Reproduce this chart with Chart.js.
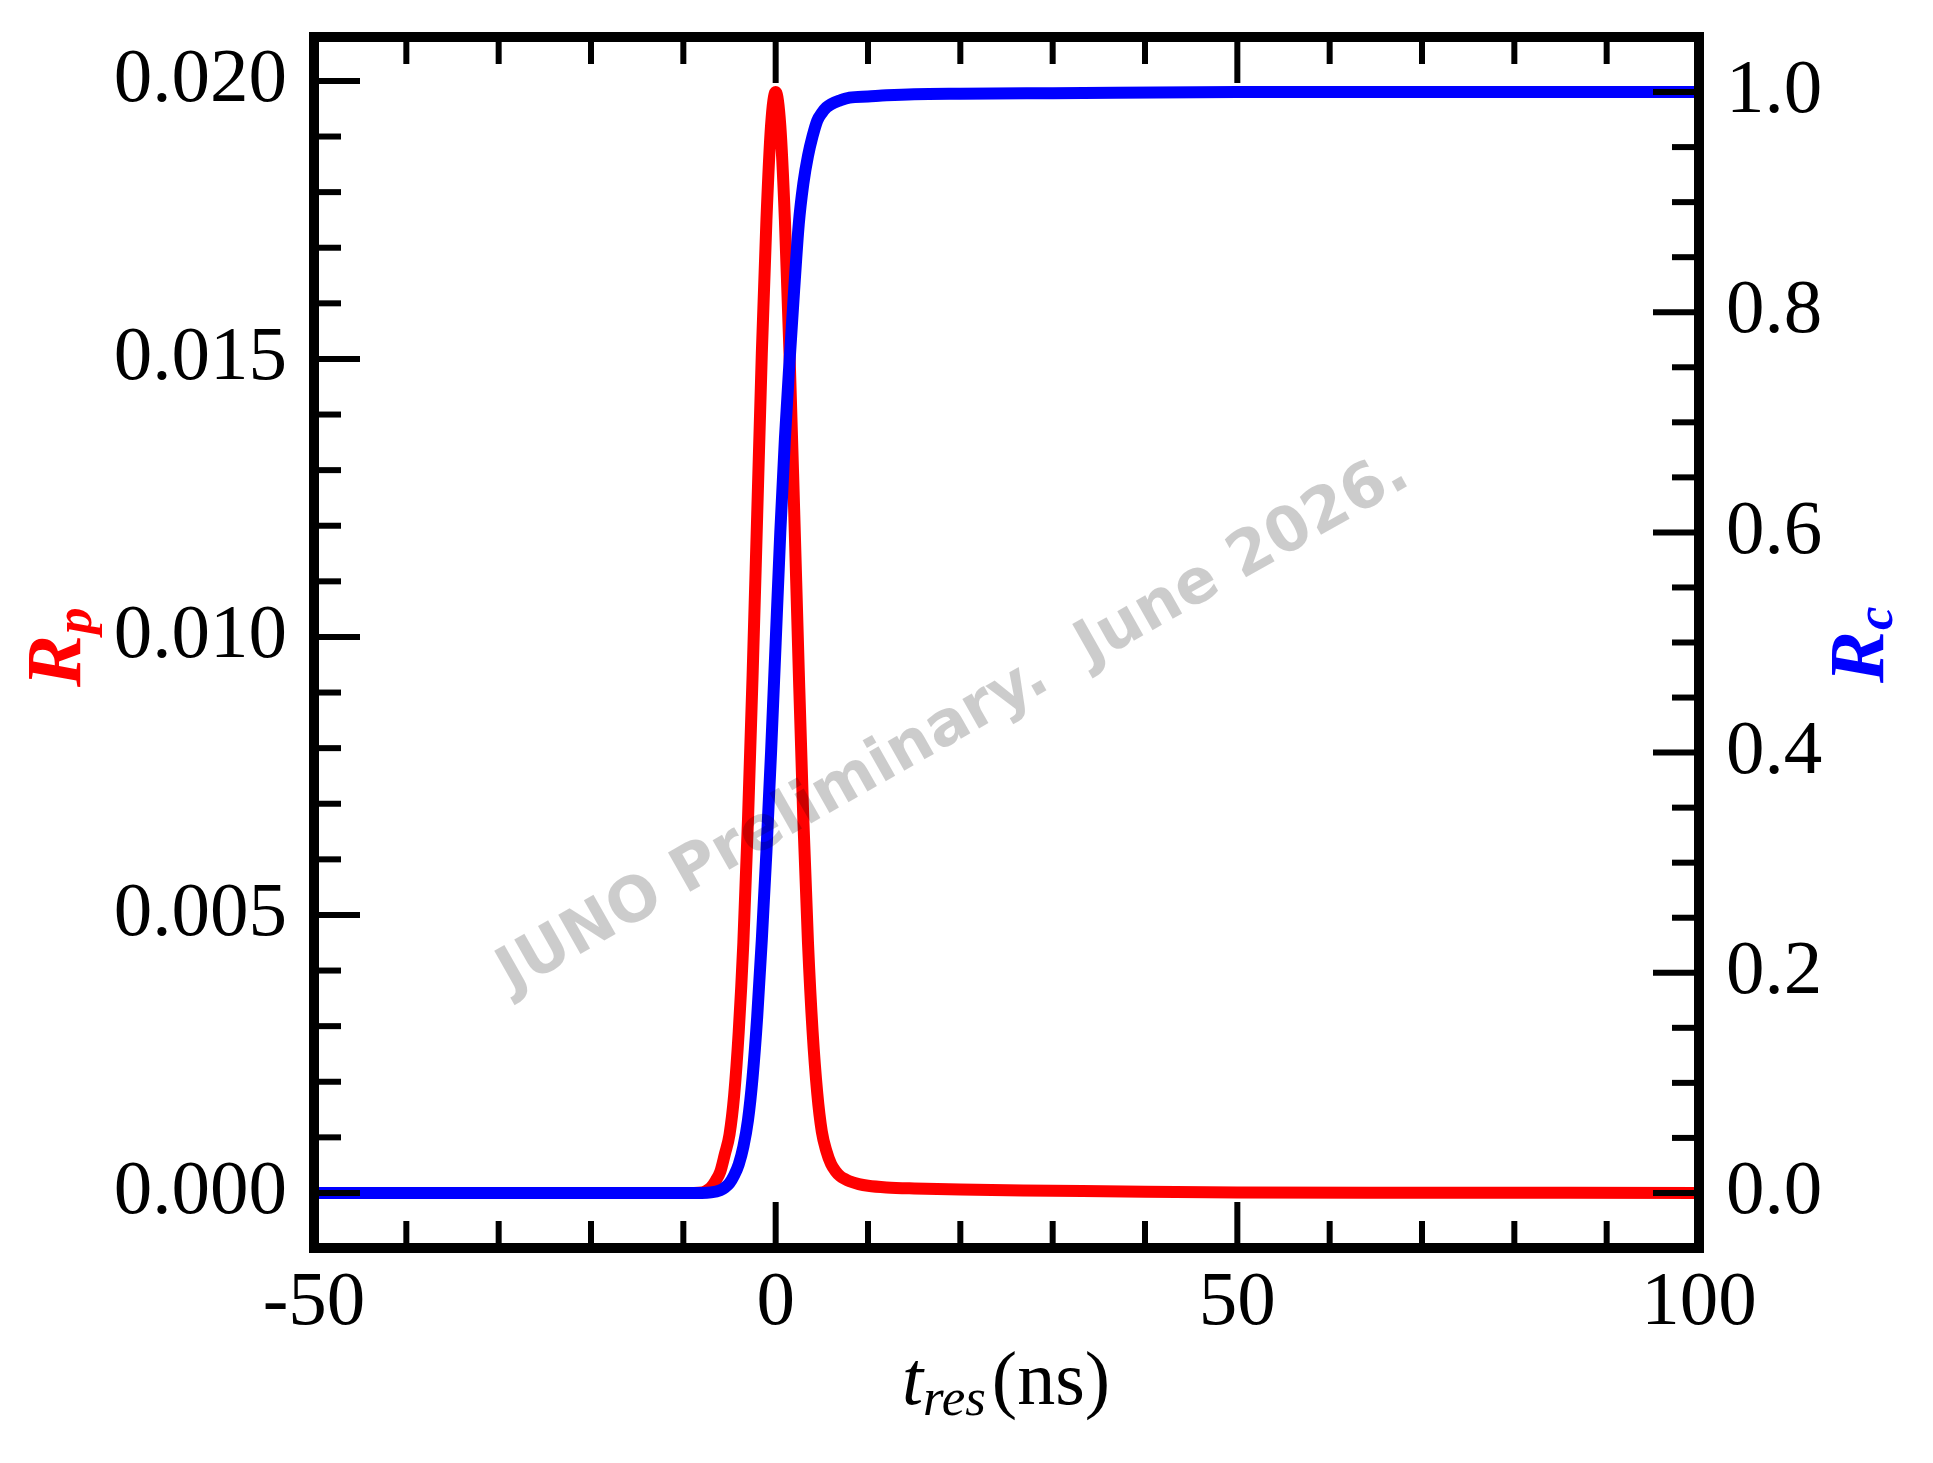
<!DOCTYPE html>
<html><head><meta charset="utf-8">
<script src="https://cdn.jsdelivr.net/npm/chart.js@4.4.1/dist/chart.umd.min.js"></script>
<style>html,body{margin:0;padding:0;background:#fff;overflow:hidden;} #wrap{width:1933px;height:1463px;}</style>
</head><body><div id="wrap"><canvas id="c" width="1933" height="1463"></canvas></div>
<script>
// ---- data ----
const tRed = [-50,-20,-10,-8,-7.5,-7,-6.5,-6,-5.5,-5,-4.5,-4,-3.5,-3,-2.5,-2,-1.5,-1,-0.5,0,0.5,1,1.5,2,2.5,3,3.5,4,4.5,5,5.5,6,6.5,7,7.5,8,9,10,12,15,20,30,40,50,70,100];
const rp = [0,0,0,0.00001,0.00004,0.0001,0.00022,0.00038,0.0007,0.00105,0.00175,0.0029,0.0045,0.0067,0.0093,0.0122,0.0151,0.0175,0.0192,0.0198,0.0192,0.0175,0.0151,0.0123,0.0094,0.0067,0.0045,0.0029,0.0018,0.0011,0.00075,0.00052,0.00039,0.0003,0.00025,0.00021,0.00016,0.00013,0.0001,0.00008,0.00006,0.00004,0.00002,0.00001,0.000005,0];
const tBlue = [-50,-20,-10,-8,-7,-6,-5.5,-5,-4.5,-4,-3.5,-3,-2.5,-2,-1.5,-1,-0.5,0,0.5,1,1.5,2,2.5,3,3.5,4,4.5,5,5.5,6,7,8,10,12,15,20,30,50,70,100];
const rc = [0,0,0,0,0.0005,0.0025,0.005,0.009,0.016,0.026,0.042,0.066,0.105,0.16,0.23,0.31,0.40,0.50,0.60,0.685,0.755,0.82,0.88,0.917,0.942,0.96,0.974,0.981,0.986,0.989,0.9925,0.995,0.996,0.997,0.998,0.9985,0.999,1.0,1.0,1.0];
const xTicks = [-50,0,50,100];
const xMinor = [-40,-30,-20,-10,10,20,30,40,60,70,80,90];
const leftTicks = [0,0.005,0.010,0.015,0.020];
const leftMinor = [0.001,0.002,0.003,0.004,0.006,0.007,0.008,0.009,0.011,0.012,0.013,0.014,0.016,0.017,0.018,0.019];
const rightTicks = [0,0.2,0.4,0.6,0.8,1.0];
const rightMinor = [0.05,0.1,0.15,0.25,0.3,0.35,0.45,0.5,0.55,0.65,0.7,0.75,0.85,0.9,0.95];
const watermark = "JUNO Preliminary.  June 2026.";

const pts = (xs, ys) => xs.map((x, i) => ({x: x, y: ys[i]}));
const tickFont = {family: 'Liberation Serif', size: 77};

const framePlugin = {
  id: 'frame',
  afterDatasetsDraw(chart) {
    const {ctx, chartArea: a, scales} = chart;
    ctx.save();
    // watermark
    ctx.save();
    ctx.translate(962, 738);
    ctx.rotate(-29.5 * Math.PI / 180);
    ctx.font = 'bold 62px "DejaVu Sans"';
    ctx.fillStyle = 'rgba(0,0,0,0.2)';
    ctx.textAlign = 'center';
    ctx.textBaseline = 'alphabetic';
    ctx.fillText(watermark, 0, 0);
    ctx.restore();
    // ticks
    ctx.strokeStyle = '#000';
    ctx.lineWidth = 6;
    ctx.lineCap = 'butt';
    const seg = (x1, y1, x2, y2) => { ctx.beginPath(); ctx.moveTo(x1, y1); ctx.lineTo(x2, y2); ctx.stroke(); };
    const X = scales.x, YL = scales.y, YR = scales.y2;
    const MAJ = 46, MIN = 27;
    xTicks.forEach(v => { const p = X.getPixelForValue(v); seg(p, a.bottom, p, a.bottom - MAJ); seg(p, a.top, p, a.top + MAJ); });
    xMinor.forEach(v => { const p = X.getPixelForValue(v); seg(p, a.bottom, p, a.bottom - MIN); seg(p, a.top, p, a.top + MIN); });
    leftTicks.forEach(v => { const p = YL.getPixelForValue(v); seg(a.left, p, a.left + MAJ, p); });
    leftMinor.forEach(v => { const p = YL.getPixelForValue(v); seg(a.left, p, a.left + MIN, p); });
    rightTicks.forEach(v => { const p = YR.getPixelForValue(v); seg(a.right, p, a.right - MAJ, p); });
    rightMinor.forEach(v => { const p = YR.getPixelForValue(v); seg(a.right, p, a.right - MIN, p); });
    // frame
    ctx.lineWidth = 10;
    ctx.lineJoin = 'miter';
    ctx.strokeRect(a.left, a.top, a.right - a.left, a.bottom - a.top);
    ctx.restore();
  },
  afterDraw(chart) {
    const ctx = chart.ctx;
    ctx.save();
    ctx.textBaseline = 'alphabetic';
    ctx.textAlign = 'left';
    // x title: t_res(ns)
    const f1 = 'italic 76px "Liberation Serif"', f2 = 'italic 53px "Liberation Serif"', f3 = '76px "Liberation Serif"';
    ctx.font = f1; const w1 = ctx.measureText('t').width;
    ctx.font = f2; const w2 = ctx.measureText('res').width;
    ctx.font = f3; const w3 = ctx.measureText('(ns)').width;
    const gap = 6;
    let x0 = 1006 - (w1 + w2 + gap + w3) / 2;
    ctx.fillStyle = '#000';
    ctx.font = f1; ctx.fillText('t', x0, 1404);
    ctx.font = f2; ctx.fillText('res', x0 + w1, 1415);
    ctx.font = f3; ctx.fillText('(ns)', x0 + w1 + w2 + gap, 1404);
    // y titles
    const ylab = (x, y, main, sub, color, off) => {
      ctx.save();
      ctx.translate(x, y);
      ctx.rotate(-Math.PI / 2);
      ctx.fillStyle = color;
      ctx.font = 'italic bold 78px "Liberation Serif"';
      const wr = ctx.measureText(main).width;
      ctx.fillText(main, 0, 0);
      ctx.font = 'italic bold 53px "Liberation Serif"';
      ctx.fillText(sub, wr + 1, off);
      ctx.restore();
    };
    ylab(80, 687, 'R', 'p', '#ff0000', 11);
    ylab(1883, 683, 'R', 'c', '#0000ff', 9);
    ctx.restore();
  }
};

new Chart(document.getElementById('c'), {
  type: 'line',
  data: {
    datasets: [
      {label: 'Rc', data: pts(tBlue, rc), yAxisID: 'y2', borderColor: '#0000ff', backgroundColor: '#0000ff', borderWidth: 12, pointRadius: 0, fill: false, cubicInterpolationMode: 'monotone', borderJoinStyle: 'round', order: 0},
      {label: 'Rp', data: pts(tRed, rp), yAxisID: 'y', borderColor: '#ff0000', backgroundColor: '#ff0000', borderWidth: 12, pointRadius: 0, fill: false, cubicInterpolationMode: 'monotone', borderJoinStyle: 'round', order: 1}
    ]
  },
  options: {
    responsive: false, animation: false, devicePixelRatio: 1,
    layout: {padding: {top: 37, left: 0, right: 0, bottom: 0}},
    plugins: {legend: {display: false}, tooltip: {enabled: false}, title: {display: false}},
    scales: {
      x: {
        type: 'linear', position: 'bottom', min: -50, max: 100,
        afterBuildTicks: s => { s.ticks = xTicks.map(v => ({value: v})); },
        ticks: {font: tickFont, color: '#000', padding: 10, maxRotation: 0, autoSkip: false, callback: v => String(v)},
        grid: {display: false, drawTicks: false}, border: {display: false},
        afterFit: s => { s.height = 215; s.paddingLeft = 0; s.paddingRight = 0; s.paddingTop = 0; s.paddingBottom = 0; }
      },
      y: {
        type: 'linear', position: 'left', min: -0.00099, max: 0.02079,
        afterBuildTicks: s => { s.ticks = leftTicks.map(v => ({value: v})); },
        ticks: {font: tickFont, color: '#000', padding: 27, autoSkip: false, callback: v => v.toFixed(3)},
        grid: {display: false, drawTicks: false}, border: {display: false},
        afterFit: s => { s.width = 314; s.paddingLeft = 0; s.paddingRight = 0; s.paddingTop = 0; s.paddingBottom = 0; }
      },
      y2: {
        type: 'linear', position: 'right', min: -0.05, max: 1.05,
        afterBuildTicks: s => { s.ticks = rightTicks.map(v => ({value: v})); },
        ticks: {font: tickFont, color: '#000', padding: 27, autoSkip: false, callback: v => v.toFixed(1)},
        grid: {display: false, drawTicks: false}, border: {display: false},
        afterFit: s => { s.width = 234; s.paddingLeft = 0; s.paddingRight = 0; s.paddingTop = 0; s.paddingBottom = 0; }
      }
    }
  },
  plugins: [framePlugin]
});
</script>
</body></html>
